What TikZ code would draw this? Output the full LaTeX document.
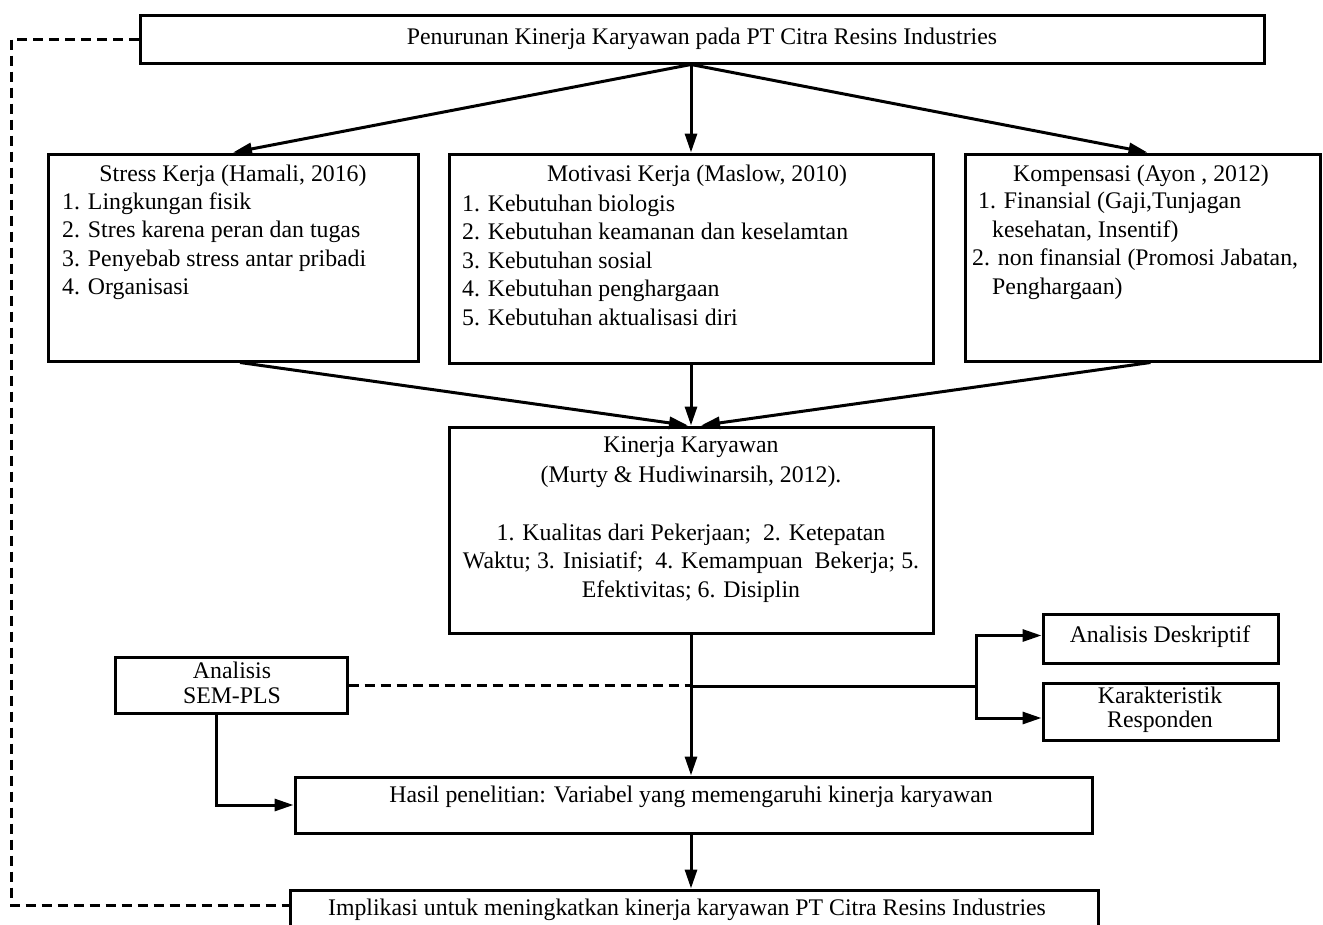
\documentclass[tikz,border=0pt]{standalone}
\usepackage{fontspec}
\setmainfont{Liberation Serif}
\usetikzlibrary{arrows.meta}
\begin{document}
\begin{tikzpicture}[x=1pt,y=-1pt,
  box/.style={draw, line width=3pt, inner sep=0pt, rectangle},
  txt/.style={inner sep=0pt, font=\fontsize{23.8}{28.5}\selectfont},
  one/.style={txt, text height=16pt, text depth=5pt},
  conn/.style={line width=3pt},
  arr/.style={conn, -{Triangle[length=19pt,width=12pt]}},
  dsh/.style={line width=3pt, dash pattern=on 10pt off 6pt}
]
\clip (0,0) rectangle (1323,924);
% boxes
\node[box, minimum width=1124pt, minimum height=48pt] (top) at (702,39) {};
\node[box, minimum width=370pt, minimum height=207pt] (stress) at (233,257.5) {};
\node[box, minimum width=484pt, minimum height=209pt] (motiv) at (691,258.5) {};
\node[box, minimum width=355pt, minimum height=207pt] (komp) at (1142.5,257.5) {};
\node[box, minimum width=484pt, minimum height=206pt] (kin) at (691,530) {};
\node[box, minimum width=232pt, minimum height=56pt] (sem) at (231,685) {};
\node[box, minimum width=235pt, minimum height=49pt] (ad) at (1160.5,638.5) {};
\node[box, minimum width=235pt, minimum height=57pt] (kar) at (1160.5,711.5) {};
\node[box, minimum width=797pt, minimum height=56pt] (hasil) at (693.5,805) {};
\node[box, minimum width=808pt, minimum height=60pt] (impl) at (694,920) {};
% texts
\node[one] (toptxt) at (702,39) {Penurunan Kinerja Karyawan pada PT Citra Resins Industries};
\node[one] (stresst) at (233,176) {Stress Kerja (Hamali, 2016)};
\node[txt, anchor=west, align=left] (stressi) at (62,246) {1. Lingkungan fisik\\2. Stres karena peran dan tugas\\3. Penyebab stress antar pribadi\\4. Organisasi};
\node[one] (motivt) at (697,176) {Motivasi Kerja (Maslow, 2010)};
\node[txt, anchor=west, align=left] (motivi) at (462,260) {1. Kebutuhan biologis\\2. Kebutuhan keamanan dan keselamtan\\3. Kebutuhan sosial\\4. Kebutuhan penghargaan\\5. Kebutuhan aktualisasi diri};
\node[one] (kompt) at (1141,176) {Kompensasi (Ayon , 2012)};
\node[txt, anchor=west, align=left] (kompi) at (972,246) {\hspace*{6pt}1. Finansial (Gaji,Tunjagan\\\hspace*{20pt}kesehatan, Insentif)\\2. non finansial (Promosi Jabatan,\\\hspace*{20pt}Penghargaan)};
\node[txt, align=center, font=\fontsize{23.8}{30}\selectfont] (kint) at (691,462) {Kinerja Karyawan\\(Murty \& Hudiwinarsih, 2012).};
\node[txt, align=center] (kini) at (691,563) {1. Kualitas dari Pekerjaan;\ \ 2. Ketepatan\\Waktu; 3. Inisiatif;\ \ 4. Kemampuan\ \ Bekerja; 5.\\Efektivitas; 6. Disiplin};
\node[txt, align=center, font=\fontsize{23.8}{24.5}\selectfont] (semt) at (232,683) {Analisis\\SEM-PLS};
\node[one] (adt) at (1160,637) {Analisis Deskriptif};
\node[txt, align=center, font=\fontsize{23.8}{23.5}\selectfont] (kart) at (1160,710) {Karakteristik\\Responden};
\node[one] (hasilt) at (691,797) {Hasil penelitian: Variabel yang memengaruhi kinerja karyawan};
\node[one] (implt) at (687,910) {Implikasi untuk meningkatkan kinerja karyawan PT Citra Resins Industries};
% connectors
\coordinate (tout) at (top.south -| motiv.north);
\draw[arr] (tout) -- (motiv.north);
\draw[arr] (tout) -- (stress.north);
\draw[arr] (tout) -- ([xshift=5pt]komp.north);
\draw[arr] ([xshift=7pt]stress.south) -- ([xshift=-3pt]kin.north);
\draw[arr] (motiv.south) -- (kin.north);
\draw[arr] ([xshift=8pt]komp.south) -- ([xshift=10pt]kin.north);
\draw[arr] (kin.south) -- (kin.south |- hasil.north);
\coordinate (j) at (kin.south |- sem.east);
\draw[dsh] (sem.east) -- (j);
\coordinate (br) at (976,686);
\draw[conn] ([yshift=-1pt]j) -- (br);
\draw[arr] (br) |- ([yshift=3pt]ad.west);
\draw[arr] (br) |- ([yshift=-6.5pt]kar.west);
\draw[arr] ([xshift=-15pt]sem.south) |- (hasil.west);
\draw[arr] (hasil.south -| kin.south) -- (impl.north -| kin.south);
\coordinate (lc) at (11,905);
\draw[dsh] (top.west) -| (lc) -- (lc -| impl.west);
\end{tikzpicture}
\end{document}
